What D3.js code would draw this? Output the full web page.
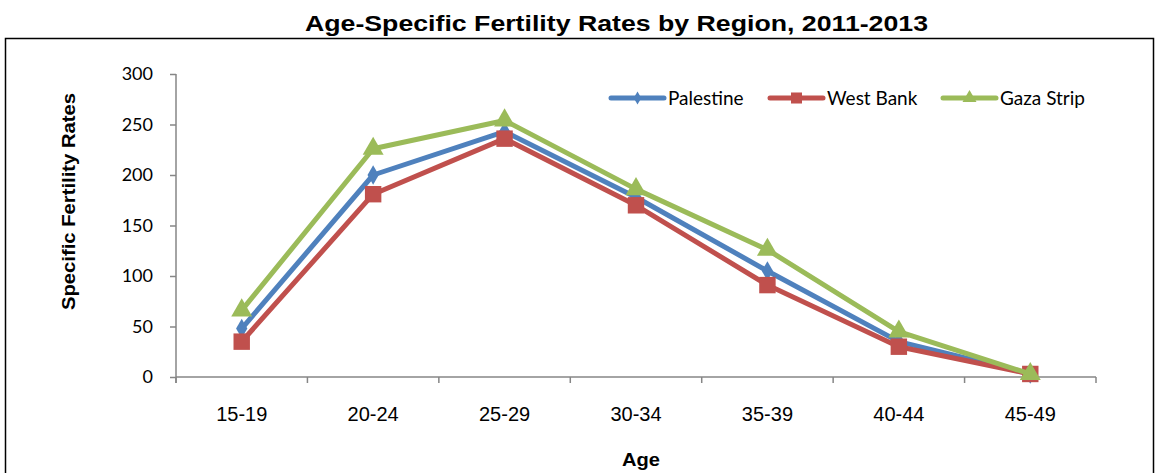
<!DOCTYPE html>
<html><head><meta charset="utf-8">
<script src="https://cdn.jsdelivr.net/npm/d3@7"></script>
<style>body{margin:0;background:#fff;}svg{display:block;}</style>
</head><body>
<svg id="c" width="1158" height="473"></svg>
<script>
const categories = ["15-19","20-24","25-29","30-34","35-39","40-44","45-49"];
const palestine = [48, 200, 243, 178, 105, 35, 3];
const westBank  = [35, 181, 236, 170, 91, 30, 3];
const gazaStrip = [66, 226, 254, 186, 126, 45, 3];
const seriesNames = ["Palestine","West Bank","Gaza Strip"];
const yTicks = [0,50,100,150,200,250,300];

const series = [
  {name: seriesNames[0], values: palestine, color: "#4F81BD", sym: d3.symbolDiamond, size: 110},
  {name: seriesNames[1], values: westBank,  color: "#C0504D", sym: d3.symbolSquare,  size: 270},
  {name: seriesNames[2], values: gazaStrip, color: "#9BBB59", sym: d3.symbolTriangle, size: 190}
];

const svg = d3.select("#c");
const L = 176, R = 1096, T = 74, B = 377;
const x = d3.scaleBand().domain(categories).range([L, R]);
const y = d3.scaleLinear().domain([0, 300]).range([B, T]);
const arial = "Liberation Sans, Arial, sans-serif";

// frame
svg.append("path").attr("d", `M5.5,473 V38.5 H1153.5 V473`).attr("fill","none").attr("stroke","#000").attr("stroke-width",1.5);

// title
svg.append("text").attr("x", 305).attr("y", 31)
  .attr("textLength", 623).attr("lengthAdjust","spacingAndGlyphs")
  .style("font-family",arial).style("font-weight","bold").style("font-size","22px")
  .text("Age-Specific Fertility Rates by Region, 2011-2013");

// y axis
const yAxis = svg.append("g").attr("transform", `translate(${L},0)`)
  .call(d3.axisLeft(y).tickValues(yTicks).tickSize(6).tickPadding(17).tickFormat(d3.format("d")));
yAxis.select(".domain").attr("stroke","#868686").attr("stroke-width",1.5).attr("d", `M0,${B+6}V${T}`);
yAxis.selectAll(".tick line").attr("stroke","#868686").attr("stroke-width",1.5);
yAxis.selectAll(".tick text").style("font-family","Lato, sans-serif").style("font-size","18px").attr("fill","#000");

// x axis
const xAxis = svg.append("g").attr("transform", `translate(0,${B})`)
  .call(d3.axisBottom(x).tickSize(0).tickPadding(30));
xAxis.select(".domain").attr("stroke","#868686").attr("stroke-width",1.5).attr("d", `M${L},0H${R}`);
xAxis.selectAll(".tick text").style("font-family",arial).style("font-size","20px").attr("fill","#000");
const bounds = categories.map(c => x(c)).concat([R]);
xAxis.selectAll(".bt").data(bounds).enter().append("line")
  .attr("x1", d => d).attr("x2", d => d).attr("y1", 0).attr("y2", 6)
  .attr("stroke","#868686").attr("stroke-width",1.5);

// axis titles
svg.append("text").attr("transform","translate(75,310) rotate(-90)")
  .attr("textLength", 217).attr("lengthAdjust","spacingAndGlyphs")
  .style("font-family",arial).style("font-weight","bold").style("font-size","18px")
  .text("Specific Fertility Rates");
svg.append("text").attr("x", 622).attr("y", 466)
  .attr("textLength", 38).attr("lengthAdjust","spacingAndGlyphs")
  .style("font-family",arial).style("font-weight","bold").style("font-size","18px")
  .text("Age");

// lines & markers
const cx = c => x(c) + x.bandwidth()/2;
const line = d3.line().x((d,i) => cx(categories[i])).y(d => y(d));
series.forEach(s => {
  svg.append("path").datum(s.values).attr("d", line).attr("fill","none")
    .attr("stroke", s.color).attr("stroke-width",5).attr("stroke-linejoin","round").attr("stroke-linecap","round");
  svg.append("g").selectAll("path").data(s.values).enter().append("path")
    .attr("transform", (d,i) => `translate(${cx(categories[i])},${y(d)})`)
    .attr("d", d3.symbol().type(s.sym).size(s.size)).attr("fill", s.color);
});

// legend
const legX = [611, 770, 943];
series.forEach((s, i) => {
  const g = svg.append("g").attr("transform", `translate(${legX[i]},98)`);
  g.append("line").attr("x1",0).attr("x2",53).attr("y1",0).attr("y2",0)
    .attr("stroke", s.color).attr("stroke-width",5).attr("stroke-linecap","round");
  g.append("path").attr("transform","translate(26.5,0)").attr("d", d3.symbol().type(s.sym).size(s.size*0.45)).attr("fill", s.color);
  g.append("text").attr("x", 57).attr("y", 7).style("font-family","Lato, sans-serif").style("font-size","19px").text(s.name);
});
</script>
</body></html>
